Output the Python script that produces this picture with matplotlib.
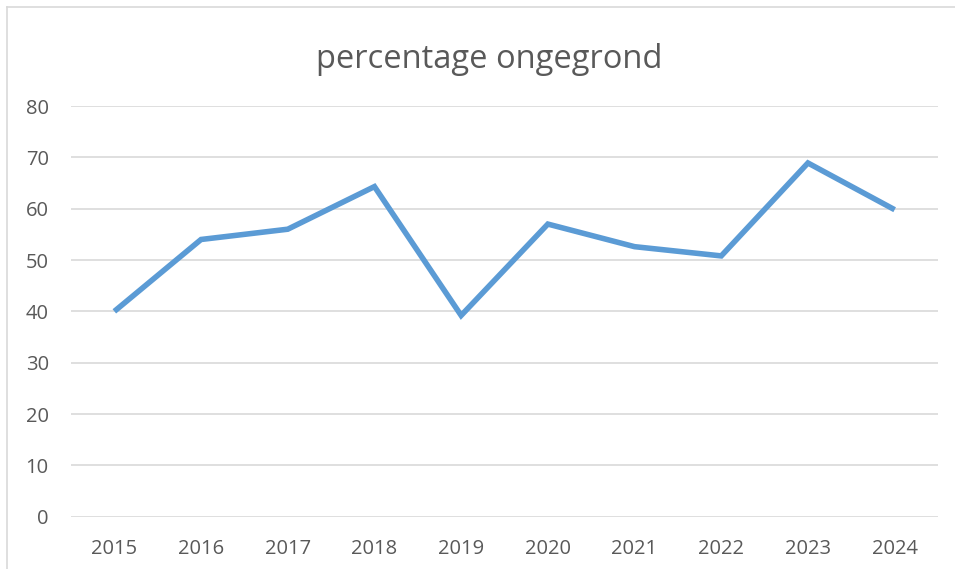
import matplotlib
matplotlib.use("Agg")
from matplotlib import pyplot as plt
from matplotlib.lines import Line2D

years = ["2015", "2016", "2017", "2018", "2019", "2020", "2021", "2022", "2023", "2024"]
percentages = [40.0, 54.0, 56.0, 64.3, 39.2, 57.0, 52.6, 50.8, 68.9, 59.8]
yticks = [0, 10, 20, 30, 40, 50, 60, 70, 80]

text_color = "#595959"
grid_color = "#D9D9D9"
line_color = "#5B9BD5"

plt.rcParams["font.family"] = ["Open Sans", "DejaVu Sans"]

W, H = 955, 569
fig = plt.figure(figsize=(W / 100, H / 100), dpi=100)
fig.patch.set_facecolor("white")

# chart area border (only left and top visible, rest is cut off)
fig.add_artist(Line2D([7 / W, 7 / W], [0, 1 - 7 / H], transform=fig.transFigure,
                      color=grid_color, linewidth=1.2))
fig.add_artist(Line2D([7 / W, 1], [1 - 7 / H, 1 - 7 / H], transform=fig.transFigure,
                      color=grid_color, linewidth=1.2))

ax = fig.add_axes([71 / W, 1 - 516.7 / H, (938 - 71) / W, (516.7 - 106) / H])
x = range(len(years))
ax.plot(x, percentages, color=line_color, linewidth=4, solid_joinstyle="miter",
        solid_capstyle="butt", zorder=3)

ax.set_xlim(-0.5, len(years) - 0.5)
ax.set_ylim(0, 80)
ax.set_yticks(yticks)
ax.set_xticks(list(x))
ax.set_xticklabels(years)
ax.yaxis.grid(True, color=grid_color, linewidth=1.2)
ax.set_axisbelow(True)
for spine in ax.spines.values():
    spine.set_visible(False)
ax.tick_params(axis="both", length=0, labelsize=14.5, labelcolor=text_color)
ax.tick_params(axis="y", pad=16)
ax.tick_params(axis="x", pad=16)

fig.text(489.5 / W, 1 - 68 / H, "percentage ongegrond", ha="center", va="baseline",
         fontsize=23.5, color=text_color)

fig.savefig("out.png", dpi=100)
